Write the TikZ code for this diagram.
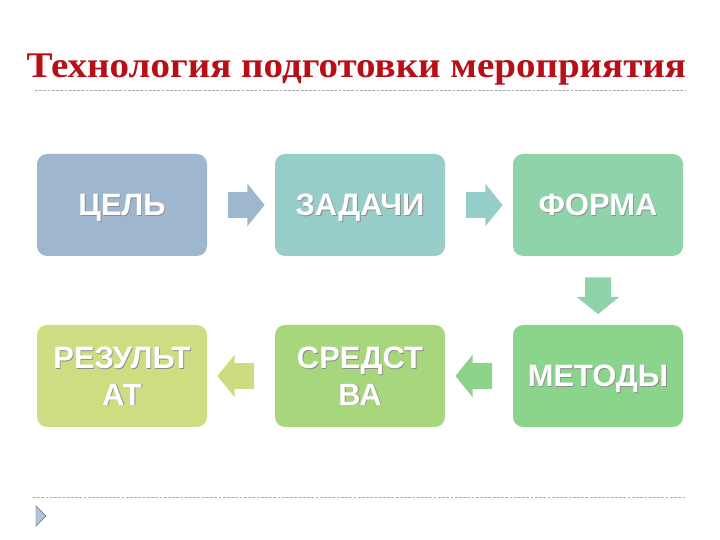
\documentclass[tikz,border=0pt]{standalone}
\usepackage{fontspec}
\setmainfont{Liberation Serif}
\newfontfamily\boxfont{Liberation Sans}
\usetikzlibrary{shapes.arrows,calc}

\definecolor{titlered}{RGB}{184,14,22}
\definecolor{celcol}{RGB}{158,183,206}
\definecolor{zadcol}{RGB}{150,205,201}
\definecolor{formcol}{RGB}{143,211,170}
\definecolor{metcol}{RGB}{139,212,139}
\definecolor{sredcol}{RGB}{168,214,124}
\definecolor{rezcol}{RGB}{207,221,130}
\definecolor{linegray}{RGB}{175,175,175}

\tikzset{
	box/.style = {rounded corners=0.25cm, minimum width=4.25cm, minimum height=2.55cm},
	lbl/.style = {text=white, align=center, text depth=0pt, font=\boxfont\bfseries\fontsize{22}{26}\selectfont},
	lblshadow/.style = {lbl, text=black!45, xshift=0.6pt, yshift=-0.6pt},
	blockarrow/.style = {single arrow, inner sep=0.315cm, minimum height=0.92cm,
		single arrow head extend=0.21cm, single arrow tip angle=102}
}

\begin{document}
\begin{tikzpicture}
	\useasboundingbox (0,0) rectangle (18,13.5);
	% title
	\node[anchor=base, text=titlered, font=\bfseries\fontsize{25.7}{30}\selectfont] (title) at (8.91,11.56) {\scalebox{1.08}[1]{Технология подготовки мероприятия}};
	\draw [linegray, dash pattern=on 2pt off 1pt] (0.875,11.25) -- (17.15,11.25);
	% boxes
	\foreach \n/\x/\y/\c/\t in {cel/3.05/8.375/celcol/{ЦЕЛЬ}, zad/9.0/8.375/zadcol/{ЗАДАЧИ},
		form/14.95/8.375/formcol/{ФОРМА}, met/14.95/4.1/metcol/{МЕТОДЫ},
		sred/9.0/4.1/sredcol/{СРЕДСТ\\ВА}, rez/3.05/4.1/rezcol/{РЕЗУЛЬТ\\АТ}}
	{
		\node[box, fill=\c] (\n) at (\x,\y) {};
		\node[lblshadow] at (\n) {\t};
		\node[lbl] at (\n) {\t};
	}
	% arrows
	\node[blockarrow, fill=celcol] (a1) at ($(cel.east)!0.5!(zad.west)$) {};
	\node[blockarrow, fill=zadcol] (a2) at ($(zad.east)!0.5!(form.west)$) {};
	\node[blockarrow, fill=formcol, shape border rotate=270] (a3) at ($(form.south)!0.5!(met.north)$) {};
	\node[blockarrow, fill=metcol!95!sredcol, shape border rotate=180] (a4) at ($(met.west)!0.5!(sred.east)$) {};
	\node[blockarrow, fill=rezcol!90!sredcol, shape border rotate=180] (a5) at ($(sred.west)!0.5!(rez.east)$) {};
	% footer
	\draw [linegray, dash pattern=on 2pt off 1pt] (0.825,1.075) -- (17.125,1.075);
	\draw [fill=celcol!80!white, draw=celcol!60!black, line width=0.3pt] (0.9,0.85) -- (1.15,0.6) -- (0.9,0.35) -- cycle;
\end{tikzpicture}
\end{document}
